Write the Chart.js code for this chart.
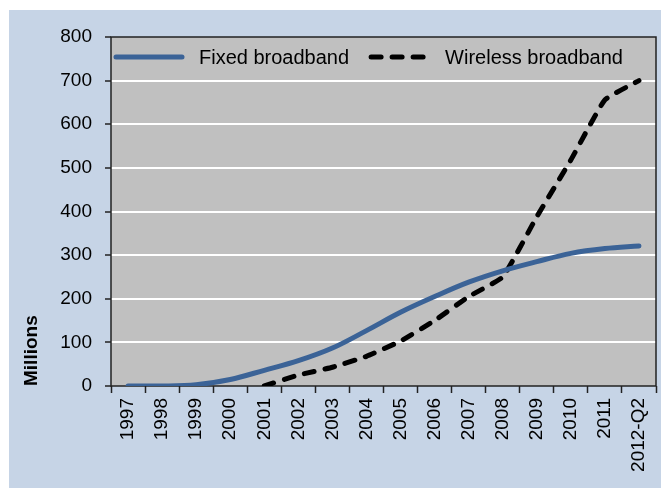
<!DOCTYPE html>
<html>
<head>
<meta charset="utf-8">
<script src="https://cdn.jsdelivr.net/npm/chart.js@4.4.1/dist/chart.umd.min.js"></script>
<style>
    body { margin: 0; background: #ffffff; }
    #panel {
        position: absolute;
        left: 9px;
        top: 10px;
        width: 652px;
        height: 478px;
        background: #C6D4E6;
    }
</style>
</head>
<body>
<div id="panel"><canvas id="broadbandChart" width="652" height="478"></canvas></div>
<script>
const years = ['1997', '1998', '1999', '2000', '2001', '2002', '2003', '2004',
    '2005', '2006', '2007', '2008', '2009', '2010', '2011', '2012-Q2'];
const fixedBroadband = [0, 0, 3, 15, 36, 58, 87, 127, 169, 205, 238, 264, 285, 304, 315, 321];
const wirelessBroadband = [null, null, null, null, 0, 25, 43, 68, 103, 150, 205, 250, 388, 518, 656, 700];
const yTicks = [0, 100, 200, 300, 400, 500, 600, 700, 800];

const fontFamily = "'Liberation Sans', Arial, sans-serif";

// Gray plot background and frame around the chart area
const plotFrame = {
    id: 'plotFrame',
    beforeDraw(chart) {
        const { ctx, chartArea: a } = chart;
        ctx.save();
        ctx.fillStyle = '#C0C0C0';
        ctx.fillRect(a.left, a.top, a.right - a.left, a.bottom - a.top);
        ctx.restore();
    },
    beforeDatasetsDraw(chart) {
        const { ctx, chartArea: a } = chart;
        ctx.save();
        ctx.strokeStyle = '#222222';
        ctx.lineWidth = 1.5;
        ctx.strokeRect(a.left, a.top, a.right - a.left, a.bottom - a.top);
        ctx.restore();
    }
};

// Legend drawn inside the plot area, top left, one row
const insideLegend = {
    id: 'insideLegend',
    afterDatasetsDraw(chart) {
        const { ctx, chartArea: a } = chart;
        const lineLengths = [66, 57];
        const y = a.top + 20;
        let x = a.left + 5;
        ctx.save();
        ctx.font = '20px ' + fontFamily;
        ctx.textBaseline = 'middle';
        chart.data.datasets.forEach((ds, i) => {
            ctx.beginPath();
            ctx.strokeStyle = ds.borderColor;
            ctx.lineWidth = ds.borderWidth;
            ctx.lineCap = 'round';
            ctx.setLineDash(ds.borderDash || []);
            ctx.moveTo(x, y);
            ctx.lineTo(x + lineLengths[i], y);
            ctx.stroke();
            ctx.setLineDash([]);
            x += lineLengths[i] + 17;
            ctx.fillStyle = '#000000';
            ctx.fillText(ds.label, x, y + 1);
            x += ctx.measureText(ds.label).width + 22;
        });
        ctx.restore();
    }
};

new Chart(document.getElementById('broadbandChart').getContext('2d'), {
    type: 'line',
    data: {
        labels: years,
        datasets: [{
            label: 'Fixed broadband',
            data: fixedBroadband,
            borderColor: '#3B6397',
            backgroundColor: '#3B6397',
            borderWidth: 5,
            borderCapStyle: 'round',
            pointRadius: 0,
            tension: 0.35,
            fill: false
        },
        {
            label: 'Wireless broadband',
            data: wirelessBroadband,
            borderColor: '#000000',
            backgroundColor: '#000000',
            borderWidth: 5,
            borderDash: [10, 11],
            borderCapStyle: 'round',
            pointRadius: 0,
            tension: 0.12,
            fill: false
        }]
    },
    options: {
        responsive: false,
        animation: false,
        layout: {
            padding: { left: 0, top: 27, right: 5, bottom: 0 }
        },
        scales: {
            x: {
                offset: true,
                grid: {
                    offset: true,
                    drawOnChartArea: false,
                    tickLength: 7,
                    tickColor: '#222222',
                    tickWidth: 1.5
                },
                border: { display: false },
                ticks: {
                    color: '#000000',
                    font: { family: fontFamily, size: 19 },
                    minRotation: 90,
                    maxRotation: 90,
                    autoSkip: false,
                    padding: 5
                },
                afterFit(scale) {
                    scale.height = 102;
                    scale.paddingLeft = 0;
                    scale.paddingRight = 0;
                }
            },
            y: {
                min: 0,
                max: 800,
                afterBuildTicks(scale) {
                    scale.ticks = yTicks.map(v => ({ value: v }));
                },
                grid: {
                    color: ctx => (ctx.tick && (ctx.tick.value === 0 || ctx.tick.value === 800)) ? 'rgba(0,0,0,0)' : '#FFFFFF',
                    lineWidth: 2,
                    tickLength: 6,
                    tickColor: '#222222',
                    tickWidth: 1.5
                },
                border: { display: false },
                ticks: {
                    color: '#000000',
                    font: { family: fontFamily, size: 19 },
                    padding: 13
                },
                title: {
                    display: true,
                    text: 'Millions',
                    align: 'start',
                    color: '#000000',
                    font: { family: fontFamily, size: 19, weight: 'bold' },
                    padding: { top: 11, bottom: 0 }
                },
                afterFit(scale) {
                    scale.width = 102;
                }
            }
        },
        plugins: {
            legend: { display: false },
            tooltip: { enabled: false }
        }
    },
    plugins: [plotFrame, insideLegend]
});
</script>
</body>
</html>
